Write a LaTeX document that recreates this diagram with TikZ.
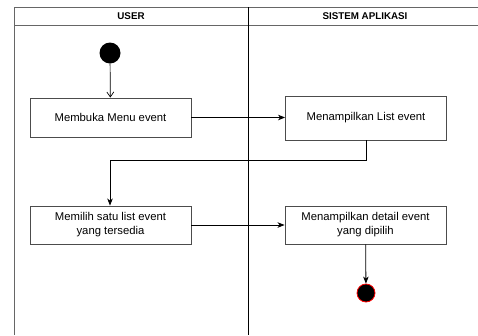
\documentclass[tikz,border=0pt]{standalone}
\usepackage{fontspec}
\setmainfont{Liberation Sans}
\usetikzlibrary{arrows.meta}
\begin{document}
\begin{tikzpicture}[x=1pt,y=-1pt,
  actbox/.style={draw=black!70,line width=0.9pt,fill=white,minimum width=161pt,minimum height=39pt,align=center,inner sep=2pt,font=\fontsize{11.3}{14}\selectfont},
  flow/.style={draw=black,line width=0.8pt,-{Stealth[length=7pt,width=5.5pt,inset=2pt]}},
  lane/.style={draw=black!60,line width=1pt},
  hdr/.style={font=\fontsize{9.8}{12}\selectfont\bfseries}]
\useasboundingbox (0,0) rectangle (478,335);
% swimlanes
\draw[lane] (14,335) -- (14,7) -- (478,7);
\draw[lane] (14,25) -- (478,25);
\draw[black,line width=0.9pt] (248,7) -- (248,335);
\node[hdr] (hu) at (131,16) {USER};
\node[hdr] (hs) at (365,16) {SISTEM APLIKASI};
% nodes
\node[circle,fill=black,minimum size=21pt,inner sep=0pt] (start) at (110,53) {};
\node[actbox] (b1) at (110.5,117.5) {Membuka Menu event};
\node[actbox,minimum height=44pt] (b2) at (366,118) {Menampilkan List event};
\node[actbox,minimum height=38pt] (b3) at (110.5,225) {Memilih satu list event\\yang tersedia};
\node[actbox,minimum height=38pt] (b4) at (365.5,225) {Menampilkan detail event\\yang dipilih};
\node[circle,fill=black,draw=red,line width=0.8pt,minimum size=18pt,inner sep=0pt] (end) at (366,293) {};
\coordinate (c1) at (366,160.5);
\coordinate (c2) at (110,160.5);
% connectors
\draw[draw=black,line width=0.7pt,-{Straight Barb[length=5pt,width=7pt]}] (start) -- (b1);
\draw[flow] (b1) -- (b2.west |- b1);
\draw[flow] (b2.south) -- (c1) -- (c2) -- (b3.north -| c2);
\draw[flow] (b3) -- (b4);
\draw[flow] (b4) -- (end);
\end{tikzpicture}
\end{document}
